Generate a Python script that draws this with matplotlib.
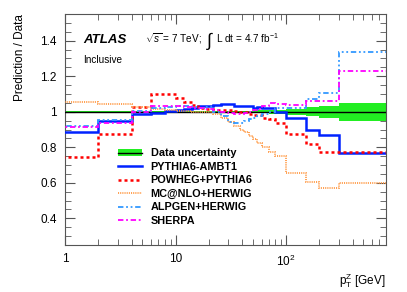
"""
Ratio of Z pT predictions to data (ATLAS style ratio panel).
"""
import matplotlib
matplotlib.use("Agg")
import matplotlib.pyplot as plt
import numpy as np
from matplotlib.patches import Patch
from matplotlib.lines import Line2D
from matplotlib.ticker import MultipleLocator, FixedLocator, NullFormatter

plt.rcParams["font.family"] = ["Liberation Sans", "DejaVu Sans"]
plt.rcParams["mathtext.fontset"] = "custom"
plt.rcParams["mathtext.rm"] = "Liberation Sans"
plt.rcParams["mathtext.it"] = "Liberation Sans:italic"

# pT(Z) bin edges in GeV
edges = [0, 2, 4, 6, 8, 10, 12, 14, 16, 18, 22, 26, 30, 34, 38, 42, 46, 50,
         54, 60, 70, 80, 100, 150, 200, 300, 800]

# relative data uncertainty per bin
data_err = [0.006, 0.006, 0.006, 0.006, 0.006, 0.006, 0.006, 0.006, 0.006,
            0.006, 0.006, 0.006, 0.006, 0.006, 0.006, 0.006, 0.006, 0.007,
            0.008, 0.009, 0.010, 0.011, 0.016, 0.024, 0.034, 0.050]

# prediction / data ratios
pythia = [0.885, 0.95, 0.99, 0.995, 1.005, 1.01, 1.015, 1.02, 1.03, 1.035,
          1.04, 1.045, 1.045, 1.035, 1.035, 1.03, 1.03, 1.02, 1.025, 1.02,
          1.02, 1.0, 0.965, 0.895, 0.87, 0.765]
powheg = [0.745, 0.874, 1.025, 1.10, 1.10, 1.08, 1.057, 1.038, 1.02, 1.015,
          1.01, 1.01, 1.01, 1.005, 1.0, 1.0, 0.99, 0.98, 0.98, 0.962,
          0.96, 0.934, 0.875, 0.82, 0.773, 0.773]
mcatnlo = [1.054, 1.044, 1.025, 1.015, 1.01, 1.005, 1.005, 1.0, 1.0, 1.0,
           0.99, 0.965, 0.94, 0.92, 0.90, 0.885, 0.865, 0.845, 0.825, 0.80,
           0.775, 0.75, 0.653, 0.605, 0.571, 0.597]
alpgen = [0.922, 0.955, 1.005, 1.02, 1.025, 1.03, 1.03, 1.025, 1.02, 1.025,
          1.0, 0.975, 0.945, 0.935, 0.935, 0.95, 0.96, 0.965, 0.975, 0.985,
          1.0, 1.02, 1.023, 1.07, 1.108, 1.334]
sherpa = [0.915, 0.935, 1.0, 1.03, 1.035, 1.03, 1.025, 1.02, 1.02, 1.015,
          1.01, 1.0, 0.995, 0.99, 0.99, 0.995, 1.0, 1.01, 1.015, 1.03,
          1.05, 1.045, 1.038, 1.06, 1.062, 1.227]

x = np.array(edges, dtype=float)
x[0] = 0.5  # zero edge cannot be shown on a log axis
err = np.array(data_err)

fig = plt.figure(figsize=(4.07, 2.92), dpi=100)
ax = fig.add_axes([0.16, 0.161, 0.788, 0.791])

green = "#22ee22"
ax.stairs(1 + err, x, baseline=1 - err, fill=True, color=green, lw=0, zorder=2)
ax.stairs(np.ones(len(err)), x, baseline=None, color="black", lw=1.0, zorder=3)

ax.stairs(pythia, x, baseline=None, color="#0022ff", lw=1.8, zorder=4)
ax.stairs(powheg, x, baseline=None, color="#ff0000", lw=1.8,
          linestyle=(0, (1.2, 1.2)), zorder=4)
ax.stairs(mcatnlo, x, baseline=None, color="#ff9944", lw=1.3,
          linestyle=(0, (0.6, 0.6)), zorder=4)
ax.stairs(alpgen, x, baseline=None, color="#3399ff", lw=1.3,
          linestyle=(0, (3, 1.5, 1, 1.5, 1, 1.5)), zorder=4)
ax.stairs(sherpa, x, baseline=None, color="#ff00ff", lw=1.3,
          linestyle=(0, (3, 1.5, 1, 1.5)), zorder=4)

ax.set_xscale("log")
ax.set_xlim(1, 800)
ax.set_ylim(0.25, 1.55)

ax.xaxis.set_major_locator(FixedLocator([1, 10, 100]))
ax.set_xticklabels(["1", "10", r"10$^{2}$"])
ax.xaxis.set_minor_formatter(NullFormatter())
ax.yaxis.set_major_locator(FixedLocator([0.4, 0.6, 0.8, 1.0, 1.2, 1.4]))
ax.set_yticklabels(["0.4", "0.6", "0.8", "1", "1.2", "1.4"])
ax.yaxis.set_minor_locator(MultipleLocator(0.05))

ax.tick_params(which="both", direction="in", top=True, right=True,
               labelsize=8.5, color="#555555")
ax.tick_params(which="major", length=7, width=0.8, pad=6)
ax.tick_params(which="minor", length=4, width=0.6)
for s in ax.spines.values():
    s.set_color("#555555")
    s.set_linewidth(0.8)

ax.set_ylabel("Prediction / Data", fontsize=8.5, loc="top", labelpad=10)
ax.set_xlabel(r"p$_{\rm T}^{\rm Z}$ [GeV]", fontsize=8.5, loc="right",
              labelpad=2)

ax.text(0.056, 0.875, "ATLAS", transform=ax.transAxes, fontsize=9.5,
        fontweight="bold", fontstyle="italic")
ax.text(0.25, 0.875, r"$\sqrt{s}$ = 7 TeV;", transform=ax.transAxes,
        fontsize=7.2)
ax.text(0.438, 0.862, r"$\int$", transform=ax.transAxes, fontsize=13)
ax.text(0.47, 0.875, r"L dt = 4.7 fb$^{-1}$", transform=ax.transAxes,
        fontsize=7.2)
ax.text(0.056, 0.79, "Inclusive", transform=ax.transAxes, fontsize=7.2)

handles = [
    (Patch(facecolor=green, edgecolor="none"), Line2D([], [], color="black", lw=1.0)),
    Line2D([], [], color="#0022ff", lw=1.8),
    Line2D([], [], color="#ff0000", lw=1.8, linestyle=(0, (1.2, 1.2))),
    Line2D([], [], color="#ff9944", lw=1.3, linestyle=(0, (0.6, 0.6))),
    Line2D([], [], color="#3399ff", lw=1.3, linestyle=(0, (3, 1.5, 1, 1.5, 1, 1.5))),
    Line2D([], [], color="#ff00ff", lw=1.3, linestyle=(0, (3, 1.5, 1, 1.5))),
]
labels = ["Data uncertainty", "PYTHIA6-AMBT1", "POWHEG+PYTHIA6",
          "MC@NLO+HERWIG", "ALPGEN+HERWIG", "SHERPA"]
ax.legend(handles, labels, loc="upper left", bbox_to_anchor=(0.165, 0.418),
          frameon=False, prop={"size": 7.8, "weight": "bold"},
          handlelength=2.2, handletextpad=0.8, labelspacing=0.32,
          borderaxespad=0, borderpad=0)

fig.savefig("out.png", dpi=100)
